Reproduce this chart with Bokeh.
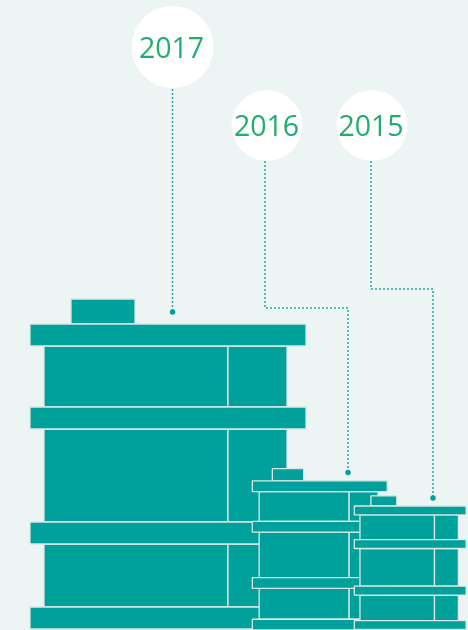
from bokeh.plotting import figure
from bokeh.embed import file_html
from bokeh.resources import INLINE
from bokeh.core.properties import value

# Data: drawn in order, biggest barrel at the back
years = ["2017", "2016", "2015"]
barrel_size = [1.0, 0.489, 0.405]

BG = "#edf5f4"
TEAL = "#00a19a"
EDGE = "#dde6e6"
GREEN = "#1fae6e"
DOT = "#25a8a1"

# Unit barrel, as fractions of the 2017 pixel size
W, H = 276.0, 305.0
left_edge = [30.0, 252.3, 354.3]
bottom_edge = [629.0, 630.0, 629.5]
rings = [(0, 22), (83, 105), (198, 220), (283, 305)]
bodies = [(22, 83), (105, 198), (220, 283)]
body_x = (14, 198, 257)
cap_x, cap_y = (41, 105), (-25, 0)

bubble_x = [172.5, 267.0, 372.0]
bubble_y = [47.0, 125.5, 125.5]
bubble_r = [41.0, 35.5, 35.5]
label_x = [171.5, 266.5, 371.0]
leader_x = [[172.5, 172.5], [265, 265, 348, 348], [371, 371, 433, 433]]
leader_y = [[89, 312], [161, 308, 308, 472.5], [161, 289, 289, 498]]

p = figure(width=470, height=632, x_range=(-0.5, 469.5), y_range=(631.5, -0.5),
           output_backend="svg", toolbar_location=None, min_border=0,
           background_fill_color=BG, border_fill_color=BG, outline_line_color=None)
p.axis.visible = False
p.grid.visible = False
p.styles = {"position": "fixed", "left": "-1px", "top": "-1px"}

for s, x0, yb in zip(barrel_size, left_edge, bottom_edge):
    top = yb - H * s
    def X(u):
        return x0 + u * s
    def Y(v):
        return top + v * s
    kw = dict(fill_color=TEAL, line_color=EDGE, line_width=1.3)
    p.quad(left=[X(cap_x[0])], right=[X(cap_x[1])], top=[Y(cap_y[0])], bottom=[Y(cap_y[1])], **kw)
    for a, b in bodies:
        p.quad(left=[X(body_x[0]), X(body_x[1])], right=[X(body_x[1]), X(body_x[2])],
               top=[Y(a), Y(a)], bottom=[Y(b), Y(b)], **kw)
    for a, b in rings:
        p.quad(left=[X(0)], right=[X(W)], top=[Y(a)], bottom=[Y(b)], **kw)

for lx, ly in zip(leader_x, leader_y):
    p.line(lx, ly, line_color=DOT, line_width=1.5, line_dash="2 2")
    p.scatter([lx[-1]], [ly[-1]], size=5.5, marker="circle", fill_color=TEAL, line_color=None)

for bx, by, br in zip(bubble_x, bubble_y, bubble_r):
    p.circle([bx], [by], radius=br, fill_color="#ffffff", line_color=None)

p.text(label_x, bubble_y, text=years, text_font=value("Open Sans"), text_font_size="28.5px",
       text_color=GREEN, text_align="center", text_baseline="middle")

open("out.html", "w").write(file_html(p, INLINE))
